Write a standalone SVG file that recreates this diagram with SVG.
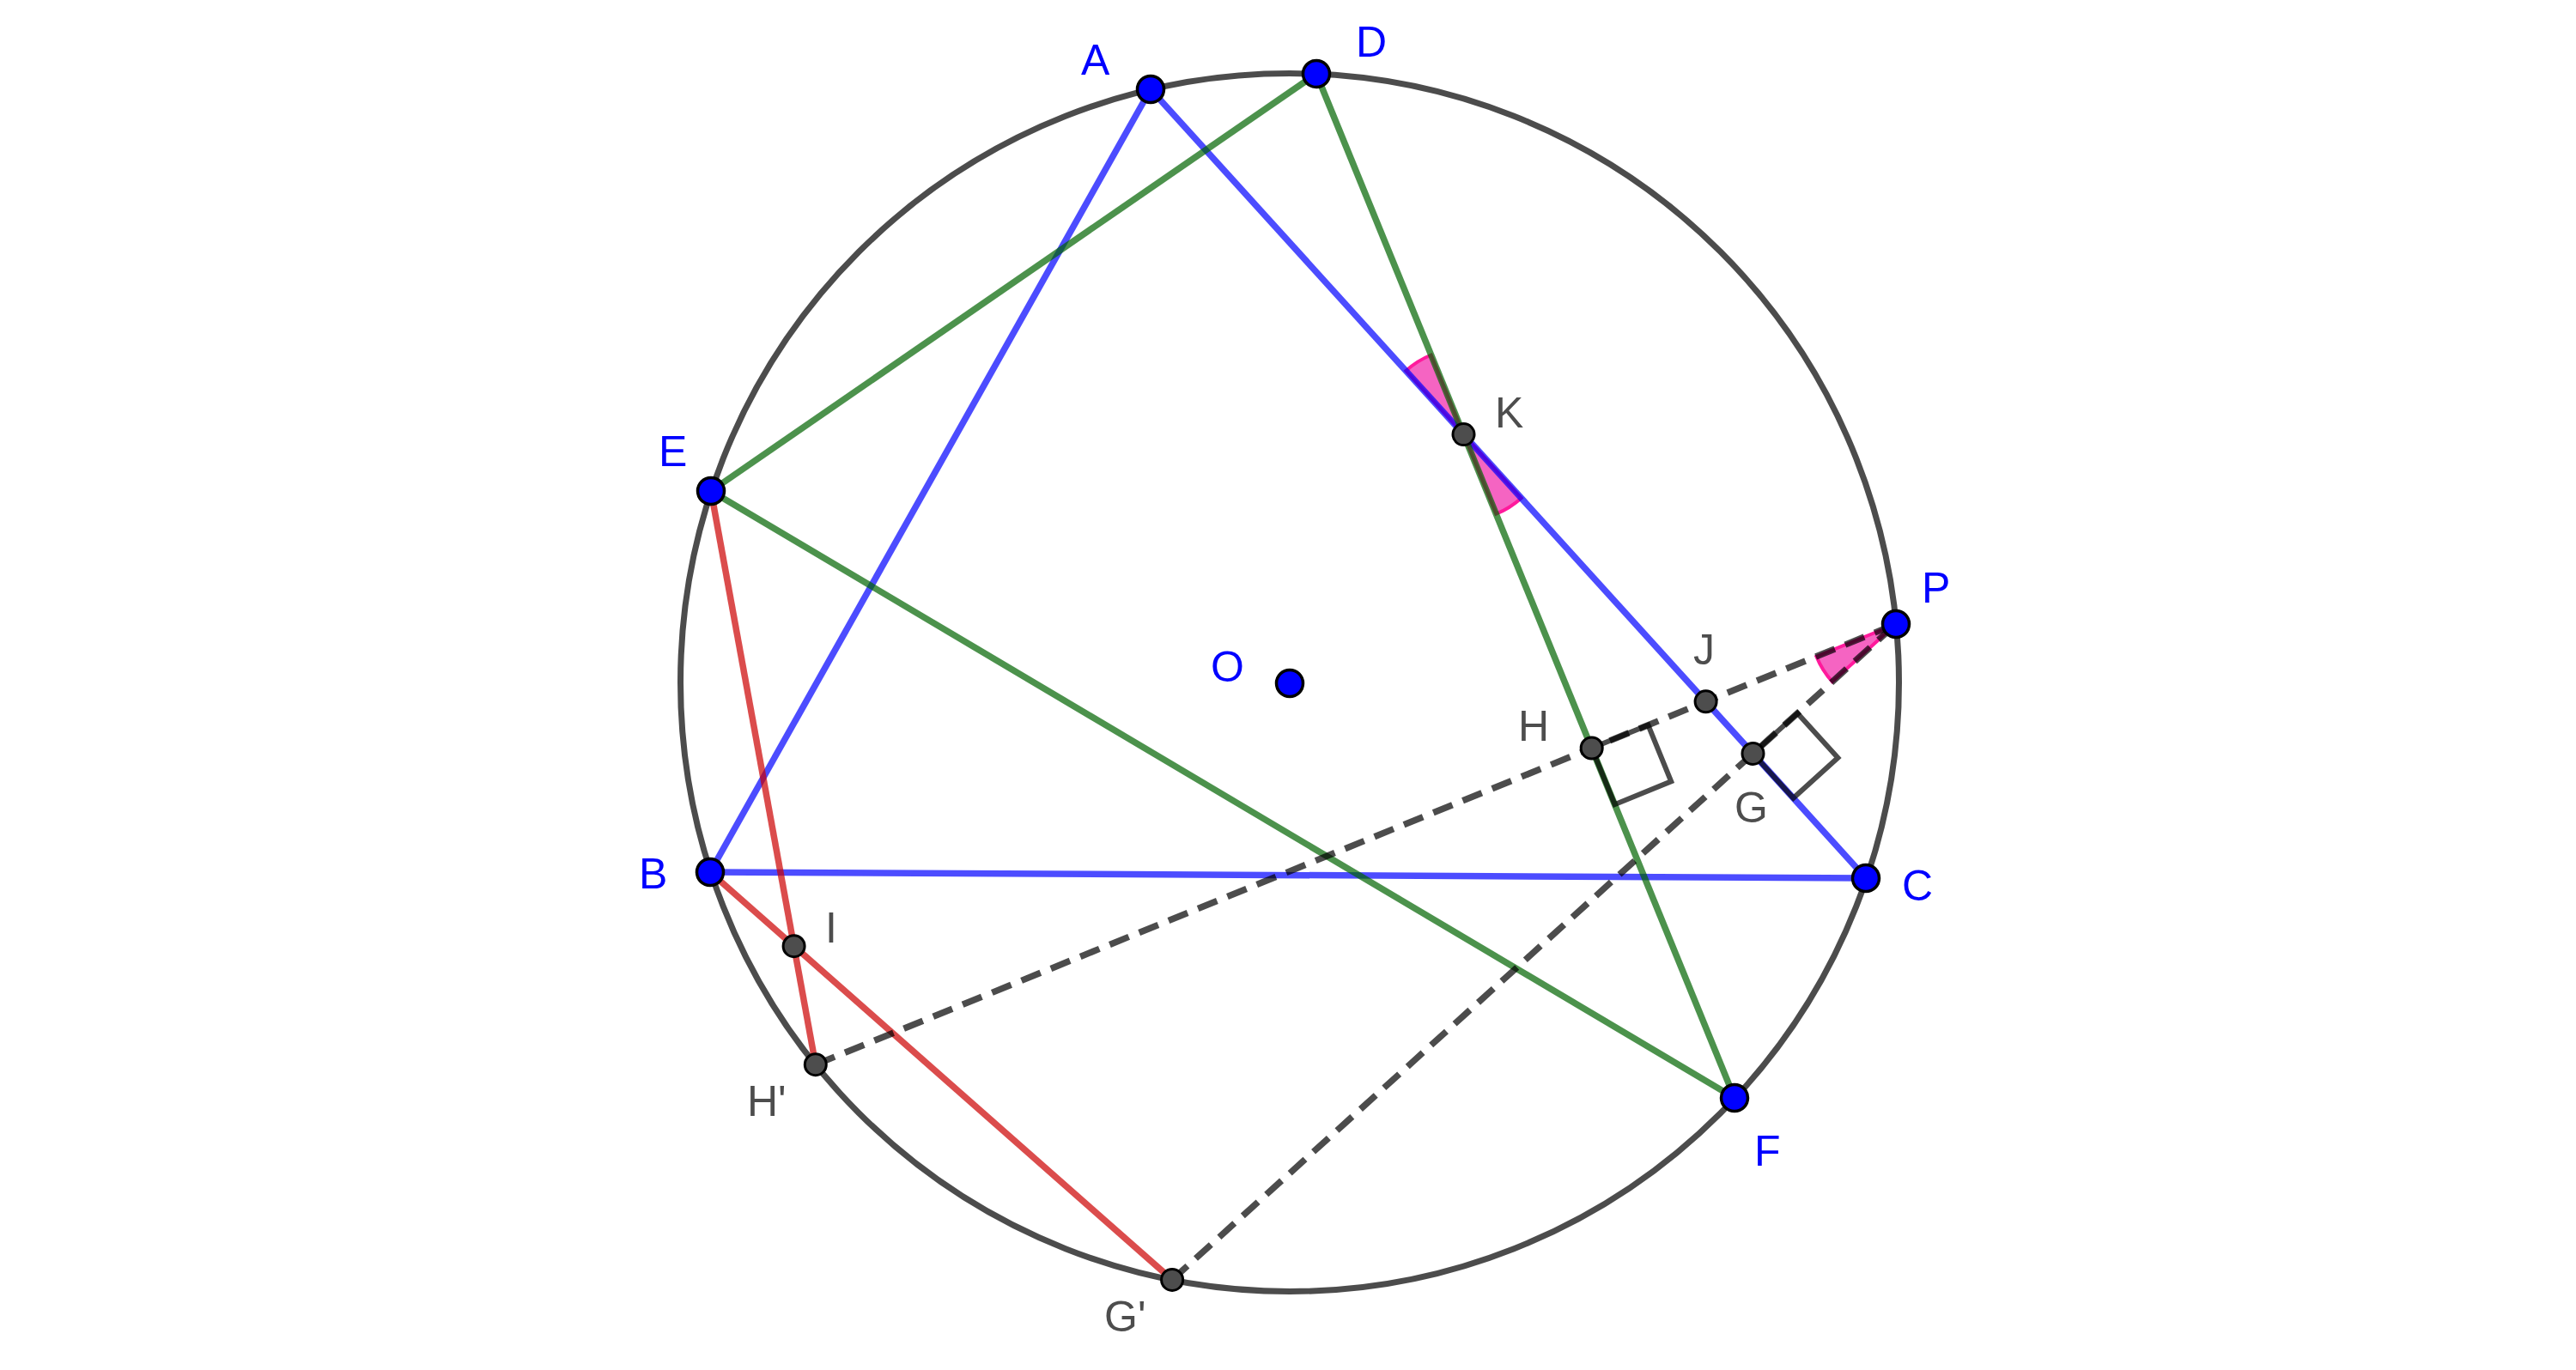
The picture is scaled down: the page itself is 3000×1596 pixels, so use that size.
<svg xmlns="http://www.w3.org/2000/svg" width="3000" height="1596" viewBox="0 0 3000 1596">
<style>
.bg{fill:#ffffff}
.circ{fill:none;stroke:#000;stroke-opacity:0.7;stroke-width:7}
.blue{stroke:#0000ff;stroke-opacity:0.7;stroke-width:7.5;fill:none}
.green{stroke:#006400;stroke-opacity:0.7;stroke-width:7.5;fill:none}
.red{stroke:#cc0000;stroke-opacity:0.7;stroke-width:7.5;fill:none}
.dash{stroke:#000;stroke-opacity:0.7;stroke-width:7.5;fill:none;stroke-dasharray:24 13}
.sq{stroke:#000;stroke-opacity:0.7;stroke-width:6;fill:none;stroke-linejoin:miter}
.ang{fill:#f564c2;stroke:#ff1a9c;stroke-width:4}
.pb{fill:#0000ff;stroke:#000;stroke-width:3.5}
.pg{fill:#4d4d4d;stroke:#000;stroke-width:3}
.lb{font-family:"Liberation Sans",Arial,sans-serif;font-size:50px;fill:#0000ff}
.lg{font-family:"Liberation Sans",Arial,sans-serif;font-size:50px;fill:#4d4d4d}
</style>
<rect class="bg" x="0" y="0" width="3000" height="1596"/>
<g id="angles">
<path class="ang" d="M1704.5,506.1 L1637.3,432.0 A100,100 0 0 1 1666.7,413.5 Z"/>
<path class="ang" d="M1704.5,506.1 L1771.7,580.2 A100,100 0 0 1 1742.3,598.7 Z"/>
<path class="ang" d="M2208,727 L2115.4,764.8 A100,100 0 0 0 2133.9,794.2 Z"/>
</g>
<g id="circle">
<circle class="circ" cx="1502" cy="795" r="709.5"/>
</g>
<g id="connectors">
<line class="blue" x1="1340" y1="104" x2="827" y2="1016"/>
<line class="blue" x1="1340" y1="104" x2="2173" y2="1023"/>
<line class="blue" x1="827" y1="1016" x2="2173" y2="1023"/>
<line class="green" x1="1533" y1="86" x2="828" y2="572"/>
<line class="green" x1="1533" y1="86" x2="2020" y2="1279"/>
<line class="green" x1="828" y1="572" x2="2020" y2="1279"/>
<line class="red" x1="828" y1="572" x2="949.8" y2="1240.2"/>
<line class="red" x1="827" y1="1016" x2="1365.1" y2="1490.9"/>
<line class="dash" x1="949.8" y1="1240.2" x2="2208" y2="727"/>
<line class="dash" x1="1365.1" y1="1490.9" x2="2208" y2="727"/>
<path class="sq" d="M1853.7,871.5 L1919.4,844.7 L1946.2,910.4 L1880.5,937.2 Z"/>
<path class="sq" d="M2041.5,877.9 L2093.4,830.9 L2140.4,882.8 L2088.5,929.8 Z"/>
</g>
<g id="node-A"><circle class="pb" cx="1340" cy="104" r="15.5"/><text class="lb" x="1259" y="87">A</text></g>
<g id="node-D"><circle class="pb" cx="1533" cy="86" r="15.5"/><text class="lb" x="1579" y="66">D</text></g>
<g id="node-E"><circle class="pb" cx="828" cy="572" r="15.5"/><text class="lb" x="767" y="543">E</text></g>
<g id="node-B"><circle class="pb" cx="827" cy="1016" r="15.5"/><text class="lb" x="744" y="1035">B</text></g>
<g id="node-C"><circle class="pb" cx="2173" cy="1023" r="15.5"/><text class="lb" x="2215" y="1049">C</text></g>
<g id="node-F"><circle class="pb" cx="2020" cy="1279" r="15.5"/><text class="lb" x="2043" y="1358">F</text></g>
<g id="node-P"><circle class="pb" cx="2208" cy="727" r="15.5"/><text class="lb" x="2238" y="702">P</text></g>
<g id="node-O"><circle class="pb" cx="1502" cy="796" r="15.5"/><text class="lb" x="1410" y="794">O</text></g>
<g id="node-K"><circle class="pg" cx="1704.5" cy="506.1" r="12.5"/><text class="lg" x="1741" y="498">K</text></g>
<g id="node-J"><circle class="pg" cx="1986.6" cy="817.3" r="12.5"/><text class="lg" x="1972" y="774">J</text></g>
<g id="node-H"><circle class="pg" cx="1853.7" cy="871.5" r="12.5"/><text class="lg" x="1768" y="863">H</text></g>
<g id="node-G"><circle class="pg" cx="2041.5" cy="877.9" r="12.5"/><text class="lg" x="2020" y="958">G</text></g>
<g id="node-I"><circle class="pg" cx="924.6" cy="1102.2" r="12.5"/><text class="lg" x="961" y="1098">I</text></g>
<g id="node-H2"><circle class="pg" cx="949.8" cy="1240.2" r="12.5"/><text class="lg" x="870" y="1300">H'</text></g>
<g id="node-G2"><circle class="pg" cx="1365.1" cy="1490.9" r="12.5"/><text class="lg" x="1286" y="1551">G'</text></g>
</svg>
